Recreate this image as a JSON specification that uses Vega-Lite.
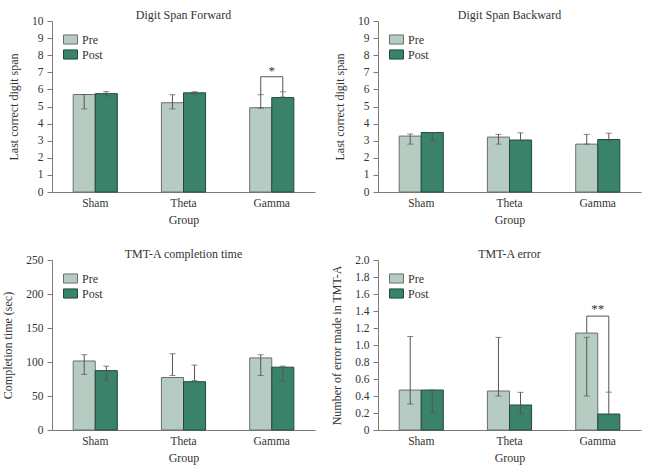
{
  "$schema": "https://vega.github.io/schema/vega-lite/v6.json",
  "background": "white",
  "padding": {"left": 1, "top": 9, "right": 5, "bottom": 1},
  "datasets": {
    "forward": [
      {"group": "Sham", "cond": "Pre", "mean": 5.70, "lo": 4.86, "hi": 5.70},
      {"group": "Sham", "cond": "Post", "mean": 5.75, "lo": 5.62, "hi": 5.87},
      {"group": "Theta", "cond": "Pre", "mean": 5.22, "lo": 4.86, "hi": 5.69},
      {"group": "Theta", "cond": "Post", "mean": 5.80, "lo": 5.68, "hi": 5.86},
      {"group": "Gamma", "cond": "Pre", "mean": 4.93, "lo": 4.90, "hi": 5.69},
      {"group": "Gamma", "cond": "Post", "mean": 5.52, "lo": 5.55, "hi": 5.86}
    ],
    "backward": [
      {"group": "Sham", "cond": "Pre", "mean": 3.27, "lo": 2.80, "hi": 3.39},
      {"group": "Sham", "cond": "Post", "mean": 3.48, "lo": 2.98, "hi": 3.48},
      {"group": "Theta", "cond": "Pre", "mean": 3.21, "lo": 2.80, "hi": 3.37},
      {"group": "Theta", "cond": "Post", "mean": 3.04, "lo": 3.00, "hi": 3.46},
      {"group": "Gamma", "cond": "Pre", "mean": 2.80, "lo": 2.80, "hi": 3.37},
      {"group": "Gamma", "cond": "Post", "mean": 3.07, "lo": 2.98, "hi": 3.44}
    ],
    "tmttime": [
      {"group": "Sham", "cond": "Pre", "mean": 101.5, "lo": 81.7, "hi": 110.7},
      {"group": "Sham", "cond": "Post", "mean": 87.3, "lo": 72.6, "hi": 93.9},
      {"group": "Theta", "cond": "Pre", "mean": 77.2, "lo": 80.2, "hi": 112.2},
      {"group": "Theta", "cond": "Post", "mean": 71.0, "lo": 72.6, "hi": 95.4},
      {"group": "Gamma", "cond": "Pre", "mean": 106.0, "lo": 80.2, "hi": 110.7},
      {"group": "Gamma", "cond": "Post", "mean": 92.4, "lo": 72.6, "hi": 93.9}
    ],
    "tmterr": [
      {"group": "Sham", "cond": "Pre", "mean": 0.47, "lo": 0.306, "hi": 1.10},
      {"group": "Sham", "cond": "Post", "mean": 0.47, "lo": 0.20, "hi": 0.47},
      {"group": "Theta", "cond": "Pre", "mean": 0.459, "lo": 0.40, "hi": 1.09},
      {"group": "Theta", "cond": "Post", "mean": 0.294, "lo": 0.188, "hi": 0.443},
      {"group": "Gamma", "cond": "Pre", "mean": 1.14, "lo": 0.40, "hi": 1.09},
      {"group": "Gamma", "cond": "Post", "mean": 0.188, "lo": 0.18, "hi": 0.445}
    ],
    "sig1": [
      {"group": "Gamma", "cond": "Pre", "v": 5.69, "ord": 1},
      {"group": "Gamma", "cond": "Pre", "v": 6.74, "ord": 2},
      {"group": "Gamma", "cond": "Post", "v": 6.74, "ord": 3},
      {"group": "Gamma", "cond": "Post", "v": 5.86, "ord": 4}
    ],
    "star1": [{"group": "Gamma", "v": 7.1, "txt": "*"}],
    "sig4": [
      {"group": "Gamma", "cond": "Pre", "v": 1.14, "ord": 1},
      {"group": "Gamma", "cond": "Pre", "v": 1.34, "ord": 2},
      {"group": "Gamma", "cond": "Post", "v": 1.34, "ord": 3},
      {"group": "Gamma", "cond": "Post", "v": 0.445, "ord": 4}
    ],
    "star4": [{"group": "Gamma", "v": 1.42, "txt": "**"}]
  },
  "columns": 2,
  "spacing": {"row": 22, "column": 15},
  "resolve": {
    "scale": {"color": "independent", "stroke": "independent", "y": "independent"},
    "legend": {"color": "independent", "stroke": "independent"}
  },
  "concat": [
    {
      "title": "Digit Span Forward",
      "width": 263, "height": 171,
      "layer": [
        {
          "data": {"name": "forward"},
          "mark": {"type": "bar", "strokeWidth": 1},
          "encoding": {
            "x": {"field": "group", "type": "nominal", "sort": ["Sham", "Theta", "Gamma"], "title": "Group", "scale": {"paddingInner": 0.5, "paddingOuter": 0.24}},
            "xOffset": {"field": "cond", "type": "nominal", "sort": ["Pre", "Post"]},
            "y": {"field": "mean", "type": "quantitative", "title": "Last correct digit span", "scale": {"domain": [0, 10]}, "axis": {"values": [0,1,2,3,4,5,6,7,8,9,10], "labelOverlap": false}},
            "color": {"field": "cond", "type": "nominal", "sort": ["Pre", "Post"], "scale": {"domain": ["Pre", "Post"], "range": ["#b6cbc1", "#3a836a"]}, "legend": {"title": null}},
            "stroke": {"field": "cond", "type": "nominal", "sort": ["Pre", "Post"], "scale": {"domain": ["Pre", "Post"], "range": ["#6e6e6e", "#1e4a3a"]}, "legend": {"title": null}}
          }
        },
        {
          "data": {"name": "forward"},
          "mark": {"type": "rule", "color": "#555555", "strokeWidth": 1},
          "encoding": {
            "x": {"field": "group", "type": "nominal", "sort": ["Sham", "Theta", "Gamma"]},
            "xOffset": {"field": "cond", "type": "nominal", "sort": ["Pre", "Post"]},
            "y": {"field": "lo", "type": "quantitative", "title": "Last correct digit span", "scale": {"domain": [0, 10]}, "axis": {"values": [0,1,2,3,4,5,6,7,8,9,10], "labelOverlap": false}},
            "y2": {"field": "hi"}
          }
        },
        {
          "data": {"name": "forward"},
          "mark": {"type": "tick", "color": "#555555", "thickness": 1, "size": 6},
          "encoding": {
            "x": {"field": "group", "type": "nominal", "sort": ["Sham", "Theta", "Gamma"]},
            "xOffset": {"field": "cond", "type": "nominal", "sort": ["Pre", "Post"]},
            "y": {"field": "lo", "type": "quantitative", "title": "Last correct digit span", "scale": {"domain": [0, 10]}, "axis": {"values": [0,1,2,3,4,5,6,7,8,9,10], "labelOverlap": false}}
          }
        },
        {
          "data": {"name": "forward"},
          "mark": {"type": "tick", "color": "#555555", "thickness": 1, "size": 6},
          "encoding": {
            "x": {"field": "group", "type": "nominal", "sort": ["Sham", "Theta", "Gamma"]},
            "xOffset": {"field": "cond", "type": "nominal", "sort": ["Pre", "Post"]},
            "y": {"field": "hi", "type": "quantitative", "title": "Last correct digit span", "scale": {"domain": [0, 10]}, "axis": {"values": [0,1,2,3,4,5,6,7,8,9,10], "labelOverlap": false}}
          }
        },
        {
          "data": {"name": "sig1"},
          "mark": {"type": "line", "color": "#555555", "strokeWidth": 1},
          "encoding": {
            "x": {"field": "group", "type": "nominal", "sort": ["Sham", "Theta", "Gamma"]},
            "xOffset": {"field": "cond", "type": "nominal", "sort": ["Pre", "Post"]},
            "y": {"field": "v", "type": "quantitative", "title": "Last correct digit span", "scale": {"domain": [0, 10]}, "axis": {"values": [0,1,2,3,4,5,6,7,8,9,10], "labelOverlap": false}},
            "order": {"field": "ord"}
          }
        },
        {
          "data": {"name": "star1"},
          "mark": {"type": "text", "font": "Liberation Serif", "fontSize": 13, "color": "#333333", "baseline": "middle"},
          "encoding": {
            "x": {"field": "group", "type": "nominal", "sort": ["Sham", "Theta", "Gamma"]},
            "y": {"field": "v", "type": "quantitative", "title": "Last correct digit span", "scale": {"domain": [0, 10]}, "axis": {"values": [0,1,2,3,4,5,6,7,8,9,10], "labelOverlap": false}},
            "text": {"field": "txt"}
          }
        }
      ]
    },
    {
      "title": "Digit Span Backward",
      "width": 263, "height": 171,
      "layer": [
        {
          "data": {"name": "backward"},
          "mark": {"type": "bar", "strokeWidth": 1},
          "encoding": {
            "x": {"field": "group", "type": "nominal", "sort": ["Sham", "Theta", "Gamma"], "title": "Group", "scale": {"paddingInner": 0.5, "paddingOuter": 0.24}},
            "xOffset": {"field": "cond", "type": "nominal", "sort": ["Pre", "Post"]},
            "y": {"field": "mean", "type": "quantitative", "title": "Last correct digit span", "scale": {"domain": [0, 10]}, "axis": {"values": [0,1,2,3,4,5,6,7,8,9,10], "labelOverlap": false}},
            "color": {"field": "cond", "type": "nominal", "sort": ["Pre", "Post"], "scale": {"domain": ["Pre", "Post"], "range": ["#b6cbc1", "#3a836a"]}, "legend": {"title": null}},
            "stroke": {"field": "cond", "type": "nominal", "sort": ["Pre", "Post"], "scale": {"domain": ["Pre", "Post"], "range": ["#6e6e6e", "#1e4a3a"]}, "legend": {"title": null}}
          }
        },
        {
          "data": {"name": "backward"},
          "mark": {"type": "rule", "color": "#555555", "strokeWidth": 1},
          "encoding": {
            "x": {"field": "group", "type": "nominal", "sort": ["Sham", "Theta", "Gamma"]},
            "xOffset": {"field": "cond", "type": "nominal", "sort": ["Pre", "Post"]},
            "y": {"field": "lo", "type": "quantitative", "title": "Last correct digit span", "scale": {"domain": [0, 10]}, "axis": {"values": [0,1,2,3,4,5,6,7,8,9,10], "labelOverlap": false}},
            "y2": {"field": "hi"}
          }
        },
        {
          "data": {"name": "backward"},
          "mark": {"type": "tick", "color": "#555555", "thickness": 1, "size": 6},
          "encoding": {
            "x": {"field": "group", "type": "nominal", "sort": ["Sham", "Theta", "Gamma"]},
            "xOffset": {"field": "cond", "type": "nominal", "sort": ["Pre", "Post"]},
            "y": {"field": "lo", "type": "quantitative", "title": "Last correct digit span", "scale": {"domain": [0, 10]}, "axis": {"values": [0,1,2,3,4,5,6,7,8,9,10], "labelOverlap": false}}
          }
        },
        {
          "data": {"name": "backward"},
          "mark": {"type": "tick", "color": "#555555", "thickness": 1, "size": 6},
          "encoding": {
            "x": {"field": "group", "type": "nominal", "sort": ["Sham", "Theta", "Gamma"]},
            "xOffset": {"field": "cond", "type": "nominal", "sort": ["Pre", "Post"]},
            "y": {"field": "hi", "type": "quantitative", "title": "Last correct digit span", "scale": {"domain": [0, 10]}, "axis": {"values": [0,1,2,3,4,5,6,7,8,9,10], "labelOverlap": false}}
          }
        }
      ]
    },
    {
      "title": "TMT-A completion time",
      "width": 263, "height": 170,
      "layer": [
        {
          "data": {"name": "tmttime"},
          "mark": {"type": "bar", "strokeWidth": 1},
          "encoding": {
            "x": {"field": "group", "type": "nominal", "sort": ["Sham", "Theta", "Gamma"], "title": "Group", "scale": {"paddingInner": 0.5, "paddingOuter": 0.24}},
            "xOffset": {"field": "cond", "type": "nominal", "sort": ["Pre", "Post"]},
            "y": {"field": "mean", "type": "quantitative", "title": "Completion time (sec)", "scale": {"domain": [0, 250]}, "axis": {"values": [0, 50, 100, 150, 200, 250], "labelOverlap": false}},
            "color": {"field": "cond", "type": "nominal", "sort": ["Pre", "Post"], "scale": {"domain": ["Pre", "Post"], "range": ["#b6cbc1", "#3a836a"]}, "legend": {"title": null}},
            "stroke": {"field": "cond", "type": "nominal", "sort": ["Pre", "Post"], "scale": {"domain": ["Pre", "Post"], "range": ["#6e6e6e", "#1e4a3a"]}, "legend": {"title": null}}
          }
        },
        {
          "data": {"name": "tmttime"},
          "mark": {"type": "rule", "color": "#555555", "strokeWidth": 1},
          "encoding": {
            "x": {"field": "group", "type": "nominal", "sort": ["Sham", "Theta", "Gamma"]},
            "xOffset": {"field": "cond", "type": "nominal", "sort": ["Pre", "Post"]},
            "y": {"field": "lo", "type": "quantitative", "title": "Completion time (sec)", "scale": {"domain": [0, 250]}, "axis": {"values": [0, 50, 100, 150, 200, 250], "labelOverlap": false}},
            "y2": {"field": "hi"}
          }
        },
        {
          "data": {"name": "tmttime"},
          "mark": {"type": "tick", "color": "#555555", "thickness": 1, "size": 6},
          "encoding": {
            "x": {"field": "group", "type": "nominal", "sort": ["Sham", "Theta", "Gamma"]},
            "xOffset": {"field": "cond", "type": "nominal", "sort": ["Pre", "Post"]},
            "y": {"field": "lo", "type": "quantitative", "title": "Completion time (sec)", "scale": {"domain": [0, 250]}, "axis": {"values": [0, 50, 100, 150, 200, 250], "labelOverlap": false}}
          }
        },
        {
          "data": {"name": "tmttime"},
          "mark": {"type": "tick", "color": "#555555", "thickness": 1, "size": 6},
          "encoding": {
            "x": {"field": "group", "type": "nominal", "sort": ["Sham", "Theta", "Gamma"]},
            "xOffset": {"field": "cond", "type": "nominal", "sort": ["Pre", "Post"]},
            "y": {"field": "hi", "type": "quantitative", "title": "Completion time (sec)", "scale": {"domain": [0, 250]}, "axis": {"values": [0, 50, 100, 150, 200, 250], "labelOverlap": false}}
          }
        }
      ]
    },
    {
      "title": "TMT-A error",
      "width": 263, "height": 170,
      "layer": [
        {
          "data": {"name": "tmterr"},
          "mark": {"type": "bar", "strokeWidth": 1},
          "encoding": {
            "x": {"field": "group", "type": "nominal", "sort": ["Sham", "Theta", "Gamma"], "title": "Group", "scale": {"paddingInner": 0.5, "paddingOuter": 0.24}},
            "xOffset": {"field": "cond", "type": "nominal", "sort": ["Pre", "Post"]},
            "y": {"field": "mean", "type": "quantitative", "title": "Number of error made in TMT-A", "scale": {"domain": [0, 2]}, "axis": {"values": [0, 0.2, 0.4, 0.6, 0.8, 1.0, 1.2, 1.4, 1.6, 1.8, 2.0], "labelOverlap": false, "labelExpr": "datum.value == 0 ? '0' : format(datum.value, '.1f')"}},
            "color": {"field": "cond", "type": "nominal", "sort": ["Pre", "Post"], "scale": {"domain": ["Pre", "Post"], "range": ["#b6cbc1", "#3a836a"]}, "legend": {"title": null}},
            "stroke": {"field": "cond", "type": "nominal", "sort": ["Pre", "Post"], "scale": {"domain": ["Pre", "Post"], "range": ["#6e6e6e", "#1e4a3a"]}, "legend": {"title": null}}
          }
        },
        {
          "data": {"name": "tmterr"},
          "mark": {"type": "rule", "color": "#555555", "strokeWidth": 1},
          "encoding": {
            "x": {"field": "group", "type": "nominal", "sort": ["Sham", "Theta", "Gamma"]},
            "xOffset": {"field": "cond", "type": "nominal", "sort": ["Pre", "Post"]},
            "y": {"field": "lo", "type": "quantitative", "title": "Number of error made in TMT-A", "scale": {"domain": [0, 2]}, "axis": {"values": [0, 0.2, 0.4, 0.6, 0.8, 1.0, 1.2, 1.4, 1.6, 1.8, 2.0], "labelOverlap": false, "labelExpr": "datum.value == 0 ? '0' : format(datum.value, '.1f')"}},
            "y2": {"field": "hi"}
          }
        },
        {
          "data": {"name": "tmterr"},
          "mark": {"type": "tick", "color": "#555555", "thickness": 1, "size": 6},
          "encoding": {
            "x": {"field": "group", "type": "nominal", "sort": ["Sham", "Theta", "Gamma"]},
            "xOffset": {"field": "cond", "type": "nominal", "sort": ["Pre", "Post"]},
            "y": {"field": "lo", "type": "quantitative", "title": "Number of error made in TMT-A", "scale": {"domain": [0, 2]}, "axis": {"values": [0, 0.2, 0.4, 0.6, 0.8, 1.0, 1.2, 1.4, 1.6, 1.8, 2.0], "labelOverlap": false, "labelExpr": "datum.value == 0 ? '0' : format(datum.value, '.1f')"}}
          }
        },
        {
          "data": {"name": "tmterr"},
          "mark": {"type": "tick", "color": "#555555", "thickness": 1, "size": 6},
          "encoding": {
            "x": {"field": "group", "type": "nominal", "sort": ["Sham", "Theta", "Gamma"]},
            "xOffset": {"field": "cond", "type": "nominal", "sort": ["Pre", "Post"]},
            "y": {"field": "hi", "type": "quantitative", "title": "Number of error made in TMT-A", "scale": {"domain": [0, 2]}, "axis": {"values": [0, 0.2, 0.4, 0.6, 0.8, 1.0, 1.2, 1.4, 1.6, 1.8, 2.0], "labelOverlap": false, "labelExpr": "datum.value == 0 ? '0' : format(datum.value, '.1f')"}}
          }
        },
        {
          "data": {"name": "sig4"},
          "mark": {"type": "line", "color": "#555555", "strokeWidth": 1},
          "encoding": {
            "x": {"field": "group", "type": "nominal", "sort": ["Sham", "Theta", "Gamma"]},
            "xOffset": {"field": "cond", "type": "nominal", "sort": ["Pre", "Post"]},
            "y": {"field": "v", "type": "quantitative", "title": "Number of error made in TMT-A", "scale": {"domain": [0, 2]}, "axis": {"values": [0, 0.2, 0.4, 0.6, 0.8, 1.0, 1.2, 1.4, 1.6, 1.8, 2.0], "labelOverlap": false, "labelExpr": "datum.value == 0 ? '0' : format(datum.value, '.1f')"}},
            "order": {"field": "ord"}
          }
        },
        {
          "data": {"name": "star4"},
          "mark": {"type": "text", "font": "Liberation Serif", "fontSize": 13, "color": "#333333", "baseline": "middle"},
          "encoding": {
            "x": {"field": "group", "type": "nominal", "sort": ["Sham", "Theta", "Gamma"]},
            "y": {"field": "v", "type": "quantitative", "title": "Number of error made in TMT-A", "scale": {"domain": [0, 2]}, "axis": {"values": [0, 0.2, 0.4, 0.6, 0.8, 1.0, 1.2, 1.4, 1.6, 1.8, 2.0], "labelOverlap": false, "labelExpr": "datum.value == 0 ? '0' : format(datum.value, '.1f')"}},
            "text": {"field": "txt"}
          }
        }
      ]
    }
  ],
  "config": {
    "font": "Liberation Serif",
    "view": {"stroke": null},
    "title": {"font": "Liberation Serif", "fontSize": 12, "fontWeight": "normal", "color": "#333333", "offset": -7, "anchor": "middle"},
    "axis": {
      "labelFont": "Liberation Serif", "labelFontSize": 11.5, "labelColor": "#333333",
      "titleFont": "Liberation Serif", "titleFontSize": 12, "titleFontWeight": "normal", "titleColor": "#333333",
      "domainColor": "#7a7a7a", "tickColor": "#7a7a7a", "grid": false, "tickSize": 5
    },
    "axisX": {"ticks": false, "labelAngle": 0, "labelPadding": 5, "titlePadding": 6},
    "axisY": {"labelPadding": 4, "titlePadding": 11},
    "legend": {
      "orient": "top-left", "offset": 11, "labelFont": "Liberation Serif", "labelFontSize": 12, "labelColor": "#333333",
      "symbolType": "M-1,-0.65H1V0.65H-1Z", "symbolSize": 196, "symbolStrokeWidth": 1, "rowPadding": 0, "labelOffset": 4, "padding": 0
    }
  }
}
